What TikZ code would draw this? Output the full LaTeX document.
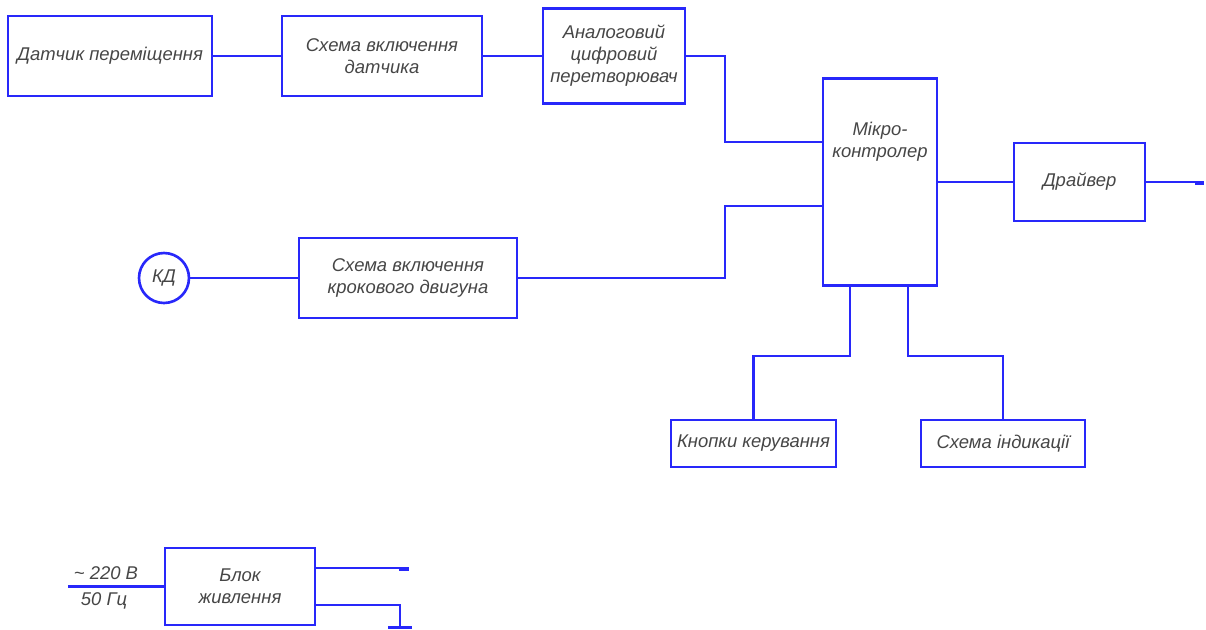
\documentclass[tikz,border=0pt]{standalone}
\usepackage{fontspec}
\setmainfont{Liberation Sans}
\usepackage{xcolor}
\usetikzlibrary{calc}
\definecolor{lineblue}{RGB}{40,40,250}
\definecolor{textgray}{RGB}{70,70,70}
\tikzset{>=latex}
\tikzset{
	blok/.style={draw=lineblue, line width=1.5pt, rectangle, align=center, text=textgray,
		font=\fontsize{10.5}{12.5}\selectfont\itshape, inner sep=0pt},
	zv/.style={draw=lineblue, line width=1.5pt},
	napys/.style={text=textgray, font=\fontsize{10.5}{12.5}\selectfont\itshape, inner sep=0pt}
}

\begin{document}
\begin{tikzpicture}[x=0.02cm, y=-0.02cm]
		\useasboundingbox (0,0) rectangle (1206,629);
		% blocks
		\node[blok, minimum width=4.08cm, minimum height=1.6cm] (datchyk) at (110,56) {Датчик переміщення};
		\node[blok, minimum width=4cm, minimum height=1.6cm] (skhema1) at (382,56) {Схема включення\\датчика};
		\node[blok, minimum width=2.84cm, minimum height=1.9cm] (atsp) at (614,56) {Аналоговий\\цифровий\\перетворювач};
		\node[blok, minimum width=2.28cm, minimum height=4.14cm,
			label={[napys, align=center, anchor=north, yshift=-0.9cm]north:{Мікро-\\контролер}}] (mk) at (880,182) {};
		\node[blok, minimum width=2.62cm, minimum height=1.56cm] (drajver) at (1079.5,182) {Драйвер};
		\node[blok, circle, minimum size=1cm] (kd) at (164,278) {КД};
		\node[blok, minimum width=4.36cm, minimum height=1.6cm] (skhema2) at (408,278) {Схема включення\\крокового двигуна};
		\node[blok, minimum width=3.3cm, minimum height=0.94cm] (knopky) at (753.5,443.5) {Кнопки керування};
		\node[blok, minimum width=3.28cm, minimum height=0.94cm] (indyk) at (1003,443.5) {Схема індикації};
		\node[blok, minimum width=3cm, minimum height=1.54cm] (zhyvl) at (240,586.5) {Блок\\живлення};
		% named points
		\coordinate (mkin1) at (823,142);
		\coordinate (mkin2) at (823,206);
		\coordinate (mkout1) at (850,285);
		\coordinate (mkout2) at (908,285);
		\coordinate (vyhid) at (1203,182);
		\coordinate (merezha) at (68,586.5);
		\coordinate (zh1) at (408,568);
		\coordinate (zh2) at (400,628);
		% connectors
		\draw[zv] (datchyk) -- (skhema1);
		\draw[zv] (skhema1) -- (atsp);
		\draw[zv] (atsp.east) -- (725,56) |- (mkin1);
		\draw[zv] (kd) -- (skhema2);
		\draw[zv] (skhema2.east) -- (725,278) |- (mkin2);
		\draw[zv] (mk.east) -- (drajver.west);
		\draw[zv] (drajver.east) -- (vyhid);
		\fill[lineblue] (1195,181) rectangle (1204,185);
		\draw[zv] (mkout1) -- (850,356) -| (knopky.north);
		\draw[zv] (mkout2) -- (908,356) -| (indyk.north);
		\draw[zv] (merezha) -- (zhyvl.west);
		\node[napys, anchor=south] at (106,580) {\char"007E\ 220 В};
		\node[napys, anchor=north] at (104,592) {50 Гц};
		\draw[zv] (315,568) -- (zh1);
		\fill[lineblue] (399,567) rectangle (409,571);
		\draw[zv] (315,605) -- (400,605) -- (zh2);
		\fill[lineblue] (388,626) rectangle (412,629);
	\end{tikzpicture}
\end{document}
